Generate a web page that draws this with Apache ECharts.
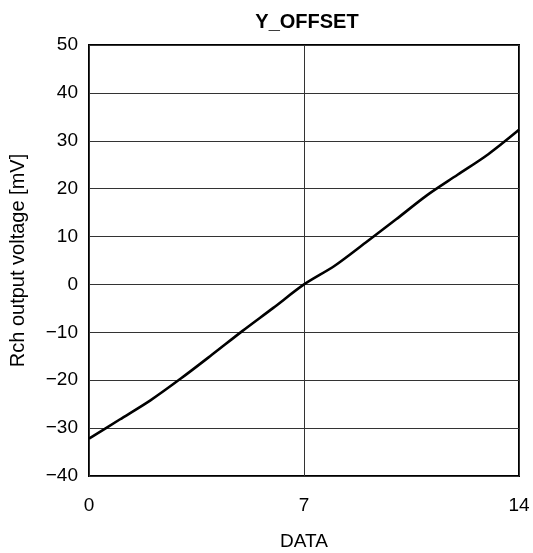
<!DOCTYPE html>
<html><head><meta charset="utf-8">
<script src="https://cdn.jsdelivr.net/npm/echarts@6/dist/echarts.min.js"></script>
<style>html,body{margin:0;padding:0;background:#fff}#c{width:533px;height:553px}</style>
</head><body><div id="c"></div>
<script>
const dataX = [0, 1, 2, 3, 4, 5, 6, 7, 8, 9, 10, 11, 12, 13, 14];
const rchOutput = [-32.2, -28.2, -24.2, -19.6, -14.7, -9.7, -4.9, 0, 3.9, 8.7, 13.6, 18.6, 22.9, 27.2, 32.3];
const xTicks = [0, 7, 14];
const yTicks = [-40, -30, -20, -10, 0, 10, 20, 30, 40, 50];
const titleText = 'Y_OFFSET';
const xName = 'DATA';
const yName = 'Rch output voltage [mV]';

const font = 'Liberation Sans, Arial, sans-serif';
const chart = echarts.init(document.getElementById('c'), null, {renderer: 'canvas'});
chart.setOption({
  animation: false,
  backgroundColor: '#fff',
  title: {text: titleText, left: 302, top: 7, textAlign: 'center',
    textStyle: {fontFamily: font, fontSize: 20, fontWeight: 'bold', color: '#000'}},
  grid: {left: 89, right: 14, top: 45, bottom: 77, show: true, borderColor: '#000', borderWidth: 2,
    containLabel: false, outerBoundsMode: 'none'},
  xAxis: {type: 'value', min: xTicks[0], max: xTicks[xTicks.length-1], interval: 7,
    name: xName, nameLocation: 'middle', nameGap: 56,
    nameTextStyle: {fontFamily: font, fontSize: 19, color: '#000'},
    axisLine: {show: false}, axisTick: {show: false},
    axisLabel: {fontFamily: font, fontSize: 19, color: '#000', margin: 20},
    splitLine: {show: true, lineStyle: {color: '#333', width: 1}}},
  yAxis: {type: 'value', min: yTicks[0], max: yTicks[yTicks.length-1], interval: 10,
    name: yName, nameLocation: 'middle', nameGap: 61, nameRotate: 90,
    nameTextStyle: {fontFamily: font, fontSize: 20, color: '#000'},
    axisLine: {show: false}, axisTick: {show: false},
    axisLabel: {fontFamily: font, fontSize: 19, color: '#000', margin: 11,
      formatter: v => v < 0 ? '\u2212' + Math.abs(v) : String(v)},
    splitLine: {show: true, lineStyle: {color: '#333', width: 1}}},
  series: [{type: 'line', data: dataX.map((x, i) => [x, rchOutput[i]]), smooth: 0.3,
    showSymbol: false, lineStyle: {color: '#000', width: 2.6}}]
});
</script></body></html>
